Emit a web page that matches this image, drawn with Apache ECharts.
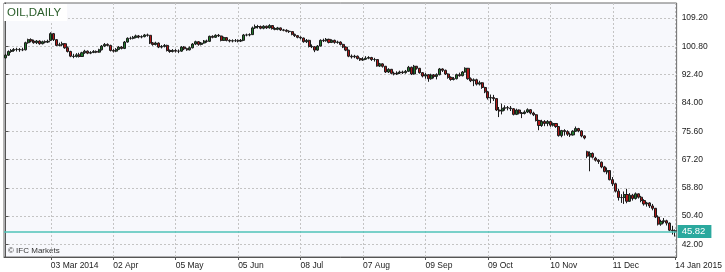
<!DOCTYPE html>
<html><head><meta charset="utf-8">
<script src="https://cdn.jsdelivr.net/npm/echarts@6/dist/echarts.min.js"></script>
<style>html,body{margin:0;padding:0;background:#fff}#c{width:725px;height:272px}</style>
</head><body><div id="c"></div>
<script>
const startDate = '2014-02-06';
const holidays = ['2014-02-17','2014-04-18','2014-05-26','2014-07-04','2014-09-01','2014-11-27','2014-12-25','2015-01-01'];
const tickDates = ['2014-03-03','2014-04-02','2014-05-05','2014-06-05','2014-07-08','2014-08-07','2014-09-09','2014-10-09','2014-11-10','2014-12-11','2015-01-14'];
const tickLabels = ['03 Mar 2014','02 Apr','05 May','05 Jun','08 Jul','07 Aug','09 Sep','09 Oct','10 Nov','11 Dec','14 Jan 2015'];
const yTickValues = [42.00, 50.40, 58.80, 67.20, 75.60, 84.00, 92.40, 100.80, 109.20];
const lastPrice = 45.82;

const opens = [
97.4,98.2,99.3,99.6,99.9,99.9,99.8,99.8,101.9,102.8,
102.4,101.9,102.4,101.6,102.2,102.1,102.6,104.6,102.8,101.1,
101.3,101.6,100.4,99.3,97.9,97.8,98.3,97.8,98.9,99.4,
98.8,99.0,99.3,99.1,99.8,100.9,101.4,101.1,99.6,99.4,
99.9,100.6,100.2,102.1,103.2,103.2,103.5,103.9,103.6,103.7,
104.2,104.1,101.8,101.4,101.8,100.6,100.8,101.1,99.6,99.3,
99.6,99.4,99.4,100.6,100.1,99.8,100.4,101.5,102.2,101.4,
101.8,102.4,102.3,103.8,103.5,104.1,103.9,102.6,103.4,102.6,
102.4,102.5,102.5,102.4,102.6,104.2,104.2,104.3,106.3,106.7,
106.7,106.2,106.8,106.3,107.0,106.1,105.9,106.3,105.7,105.6,
105.3,105.2,104.4,104.0,103.5,103.3,102.2,102.6,100.8,100.7,
99.7,100.9,102.6,102.5,102.9,102.0,102.6,102.0,102.1,101.4,
100.6,99.7,97.9,97.7,97.9,97.2,96.8,97.0,97.3,97.5,
96.9,96.9,95.0,95.6,94.9,93.2,94.0,92.8,92.6,92.9,
93.2,93.0,93.4,94.6,92.6,94.9,94.3,93.0,92.0,92.4,
91.2,92.3,91.9,92.4,94.1,93.7,92.6,91.6,91.0,91.2,
92.4,92.1,93.2,94.3,91.2,90.6,90.9,89.6,90.0,88.6,
87.3,85.5,85.6,85.3,81.9,81.6,82.4,82.6,82.5,82.3,
80.6,81.9,81.0,80.9,81.3,82.0,81.0,80.5,78.8,77.3,
78.5,77.9,78.5,77.4,77.9,77.0,74.3,75.8,75.5,74.7,
74.5,75.6,76.4,75.7,74.2,69.5,68.0,69.0,67.6,67.0,
66.4,65.0,63.5,63.9,61.2,60.0,57.8,55.9,55.9,56.8,
54.8,56.6,55.6,57.0,56.0,55.0,54.0,54.3,53.4,52.7,
50.1,48.0,48.8,49.0,48.3,46.2,46.0];

const highs = [
98.6,99.6,100.0,100.3,100.4,100.3,100.4,102.2,103.1,103.2,
102.8,102.7,102.6,102.5,102.6,102.8,105.0,104.8,103.0,101.9,
102.2,101.8,100.8,99.5,98.6,98.8,98.9,99.2,99.8,99.6,
99.4,99.7,99.6,100.1,101.2,101.8,101.7,101.3,100.0,100.3,
100.9,100.9,102.4,103.5,103.7,103.9,104.3,104.2,104.1,104.5,
104.6,104.2,102.1,102.2,102.0,101.2,101.5,101.3,99.9,100.0,
100.0,99.9,100.9,100.9,100.4,100.8,101.8,102.5,102.4,102.1,
102.7,102.8,104.0,104.1,104.4,104.5,104.0,103.7,103.6,102.9,
102.9,103.0,102.9,103.0,104.5,104.6,104.7,106.7,107.3,107.2,
107.0,107.1,107.0,107.4,107.1,106.5,106.6,106.4,106.0,105.9,
105.6,105.3,104.6,104.2,103.8,103.4,103.0,102.8,101.4,100.9,
101.2,102.9,103.1,103.3,103.1,102.9,102.8,102.5,102.3,101.6,
100.8,99.8,98.4,98.3,98.1,97.5,97.6,97.9,97.9,97.7,
97.4,97.0,95.9,95.8,95.0,94.3,94.1,93.3,93.4,93.6,
93.6,93.8,95.0,94.8,95.3,95.0,94.4,93.2,92.9,92.6,
92.7,92.6,92.8,94.4,94.3,93.9,92.8,91.9,91.7,92.7,
93.0,93.5,94.6,94.4,91.6,91.3,91.2,90.6,90.2,88.8,
87.6,86.5,86.4,85.4,82.8,83.8,83.3,83.1,83.1,82.5,
82.3,82.1,81.3,81.8,82.4,82.2,81.4,80.7,79.0,79.0,
78.9,78.9,78.7,78.2,78.0,77.1,76.0,76.2,75.9,75.2,
75.9,77.0,76.6,75.9,74.4,69.8,69.6,69.3,68.0,67.3,
66.6,65.3,64.8,64.0,62.0,60.3,58.5,56.9,57.7,58.5,
57.2,57.0,57.4,57.1,56.4,55.4,54.6,54.5,54.0,52.8,
50.6,49.3,49.8,49.3,48.5,47.5,46.4];

const lows = [
97.2,98.0,98.9,99.2,99.3,99.2,99.4,99.6,101.6,102.0,
101.6,101.5,101.3,101.4,101.7,101.8,102.4,102.4,100.9,100.8,
100.9,100.1,99.0,97.6,97.3,97.5,97.5,97.7,98.6,98.5,
98.5,98.8,98.8,98.9,99.6,100.6,100.8,99.3,99.0,99.1,
99.7,99.9,100.0,101.9,102.8,102.9,103.2,103.2,103.2,103.5,
103.7,101.5,101.0,101.1,100.3,100.2,100.5,99.3,98.9,99.0,
99.0,98.8,99.2,99.7,99.5,99.6,100.2,101.2,101.0,101.1,
101.6,101.9,102.1,103.2,103.3,103.6,102.3,102.4,102.3,102.0,
102.0,102.1,102.0,102.1,102.5,103.8,103.8,104.2,106.0,106.1,
105.9,105.9,106.0,106.1,105.8,105.6,105.6,105.4,105.3,105.0,
104.8,104.1,103.6,103.2,102.9,101.9,101.8,100.5,100.3,99.1,
99.5,100.8,102.1,102.2,101.7,101.8,101.6,101.6,101.1,100.3,
99.4,97.6,97.2,97.3,96.9,96.5,96.5,96.8,97.0,96.5,
96.3,94.8,94.7,94.5,92.9,92.9,92.5,92.2,92.3,92.6,
92.6,92.7,93.2,92.3,92.4,93.9,92.7,91.6,91.2,90.3,
90.9,91.3,91.0,92.2,93.2,92.3,91.2,90.6,90.7,91.0,
91.8,91.9,93.0,90.9,90.2,89.0,89.2,89.2,88.2,86.9,
85.0,83.9,84.6,81.6,79.8,80.6,81.7,81.8,81.6,80.3,
80.4,80.6,79.5,80.6,81.0,80.6,80.1,78.5,75.9,76.9,
77.1,77.1,76.9,77.0,76.6,74.0,73.8,74.3,74.2,73.9,
74.3,75.4,75.3,73.8,73.2,67.6,63.7,67.5,66.6,65.9,
64.6,63.4,62.8,61.0,59.3,57.4,55.0,54.3,54.0,54.2,
54.6,55.0,55.3,55.6,54.5,53.5,53.2,52.8,52.1,49.8,
47.6,47.5,48.2,47.6,45.9,44.9,44.3];

const closes = [
98.2,99.3,99.6,99.9,99.9,99.8,99.8,101.9,102.8,102.4,
101.9,102.4,101.6,102.2,102.1,102.3,104.6,102.8,101.1,101.3,
101.6,100.4,99.3,97.9,97.8,98.3,97.8,98.9,99.4,98.8,
99.0,99.3,99.1,99.8,100.9,101.4,101.1,99.6,99.4,99.9,
100.6,100.2,102.1,103.2,103.2,103.5,103.9,103.6,103.7,104.2,
104.1,101.8,101.4,101.8,100.6,100.8,101.1,99.6,99.3,99.6,
99.4,99.4,100.6,100.1,99.8,100.4,101.5,102.2,101.4,101.8,
102.4,102.3,103.8,103.5,104.1,103.9,102.6,103.4,102.6,102.4,
102.5,102.5,102.4,102.6,104.2,104.2,104.3,106.3,106.7,106.7,
106.2,106.8,106.3,107.0,106.1,105.9,106.3,105.7,105.6,105.3,
105.2,104.4,104.0,103.5,103.3,102.2,102.6,100.8,100.7,99.7,
100.9,102.6,102.5,102.9,102.0,102.6,102.0,102.1,101.4,100.6,
99.7,97.9,97.7,97.9,97.2,96.8,97.0,97.3,97.5,96.9,
96.9,95.0,95.6,94.9,93.2,94.0,92.8,92.6,92.9,93.2,
93.0,93.4,94.6,92.6,94.9,94.3,93.0,92.0,92.4,91.2,
92.3,91.9,92.4,94.1,93.7,92.6,91.6,91.0,91.2,92.4,
92.1,93.2,94.3,91.2,90.6,90.9,89.6,90.0,88.6,87.3,
85.5,85.6,85.3,81.9,81.6,82.4,82.6,82.5,82.3,80.6,
81.9,81.0,80.9,81.3,82.0,81.0,80.5,78.8,77.3,78.5,
77.9,78.5,77.4,77.9,77.0,74.3,75.8,75.5,74.7,74.5,
75.6,76.4,75.7,74.2,73.6,68.2,69.0,67.9,67.0,66.6,
65.0,63.6,63.9,61.2,60.0,57.8,55.9,55.9,56.8,54.8,
56.6,55.6,57.0,56.0,55.0,54.0,54.3,53.4,52.7,50.1,
48.0,48.8,49.0,48.3,46.2,46.0,45.82];

function tradingDays(start, count, skip) {
  const out = [];
  const d = new Date(start + 'T00:00:00Z');
  while (out.length < count) {
    const s = d.toISOString().slice(0, 10);
    const wd = d.getUTCDay();
    if (wd !== 0 && wd !== 6 && skip.indexOf(s) < 0) out.push(s);
    d.setUTCDate(d.getUTCDate() + 1);
  }
  return out;
}
const categories = tradingDays(startDate, closes.length, holidays);
const tickIdx = tickDates.map(function (d) { return categories.indexOf(d); });
const candles = closes.map(function (c, i) { return [i, opens[i], c, lows[i], highs[i]]; });

const FONT = "'Liberation Sans', Arial, sans-serif";
const chart = echarts.init(document.getElementById('c'), null, {renderer: 'canvas'});
chart.setOption({
  animation: false,
  title: {
    text: 'OIL,DAILY', left: 4, top: 4, padding: [3, 6, 2, 3], backgroundColor: '#ffffff',
    textStyle: {color: '#2a5e2a', fontSize: 11.5, fontWeight: 'normal', fontFamily: FONT}
  },
  graphic: [{
    type: 'text', left: 8, top: 247,
    style: {text: '\u00A9 IFC Markets', fill: '#333333', font: '8px ' + FONT}
  }],
  grid: {left: 4, top: 3, width: 681, height: 254, show: true, backgroundColor: '#f7f8fc', borderColor: '#6a6a6a', borderWidth: 1},
  xAxis: {
    type: 'value', min: -0.5, max: closes.length - 0.5,
    axisLine: {show: true, onZero: false, lineStyle: {color: '#555'}},
    axisTick: {show: true, customValues: tickIdx, length: 3, lineStyle: {color: '#555'}},
    axisLabel: {
      customValues: tickIdx,
      formatter: function (v) { const k = tickIdx.indexOf(v); return k >= 0 ? tickLabels[k] : ''; },
      align: 'left', margin: 4, fontSize: 8.5, color: '#222', fontFamily: FONT
    },
    splitLine: {show: true, lineStyle: {color: '#c4c4c4', type: [2, 2]}}
  },
  yAxis: {
    type: 'value', position: 'right', min: 38.23, max: 113.7,
    axisLine: {show: true, lineStyle: {color: '#555'}},
    axisTick: {show: true, customValues: yTickValues, length: 3, lineStyle: {color: '#555'}},
    axisLabel: {
      customValues: yTickValues,
      formatter: function (v) { return v.toFixed(2); },
      margin: 5, fontSize: 8.5, color: '#222', fontFamily: FONT
    },
    splitLine: {show: true, lineStyle: {color: '#c4c4c4', type: [2, 2]}}
  },
  series: [{
    type: 'candlestick',
    data: candles,
    barWidth: 2.6,
    itemStyle: {color: '#1f7a2a', color0: '#b01818', borderColor: '#1c1c1c', borderColor0: '#1c1c1c', borderWidth: 1},
    markLine: {
      silent: true, symbol: 'none',
      lineStyle: {color: '#4fc3b9', width: 1.6, type: 'solid', opacity: 1},
      label: {
        show: true, position: 'end', distance: 1,
        formatter: function () { return lastPrice.toFixed(2); },
        backgroundColor: '#2ba99e', color: '#ffffff', padding: [2, 6, 1, 4],
        fontSize: 9.5, fontFamily: FONT
      },
      data: [{yAxis: lastPrice}]
    }
  }]
});
</script>
</body></html>
